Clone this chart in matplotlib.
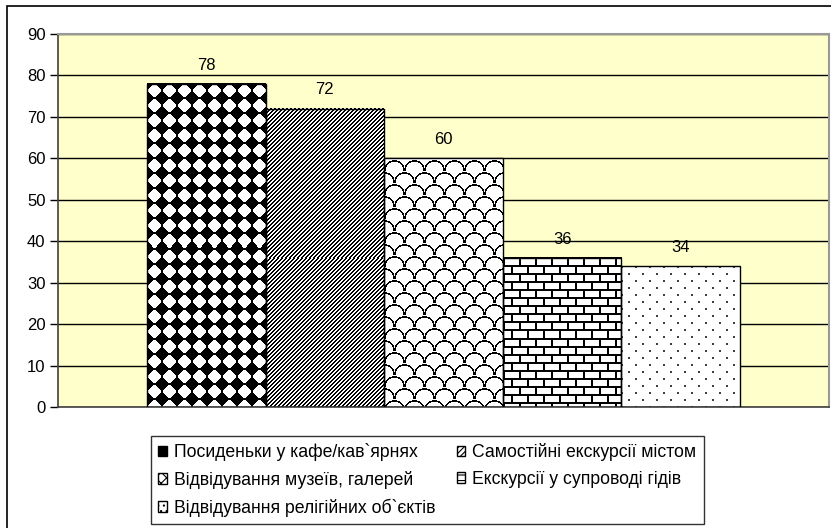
import numpy as np
import matplotlib
matplotlib.use('Agg')
import matplotlib.pyplot as plt
from matplotlib.patches import Patch, Rectangle

# data
categories = ['Посиденьки у кафе/кав`ярнях',
              'Самостійні екскурсії містом',
              'Відвідування музеїв, галерей',
              'Екскурсії у супроводі гідів',
              'Відвідування релігійних об`єктів']
values = [78, 72, 60, 36, 34]
y_ticks = list(range(0, 91, 10))

plt.rcParams['font.family'] = ['Liberation Sans', 'DejaVu Sans']
plt.rcParams['font.size'] = 12
plt.rcParams['hatch.linewidth'] = 0.8

W, H = 831, 528


# pixel patterns for the bars (1 = white, 0 = black)
def diamonds():
    yy, xx = np.mgrid[0:15, 0:15] - 7
    white = (np.abs(xx) + np.abs(yy) <= 7) & (np.maximum(np.abs(xx), np.abs(yy)) <= 6)
    return white.astype(float)


def stripes():
    yy, xx = np.mgrid[0:8, 0:8]
    return ((xx + yy) % 4 >= 2).astype(float)


def scales():
    h, w, r = 24, 20, 9.5
    yy, xx = np.mgrid[0:h, 0:w]
    img = np.ones((h, w))
    for m in range(-1, 4):
        cy = 12 * m
        for k in range(-1, 3):
            cx = 20 * k + 10 * (m % 2)
            d = np.hypot(xx - cx, yy - cy)
            img[(np.abs(d - r) < 0.8) & (yy <= cy)] = 0
    return img


def bricks():
    yy, xx = np.mgrid[0:16, 0:16]
    img = np.ones((16, 16))
    img[yy % 8 < 2] = 0
    img[(yy < 8) & (xx % 16 < 2)] = 0
    img[(yy >= 8) & ((xx + 8) % 16 < 2)] = 0
    return img


def dots():
    img = np.ones((14, 14))
    img[0:2, 0:2] = 0.25
    img[7:9, 7:9] = 0.25
    return img


patterns = [diamonds(), stripes(), scales(), bricks(), dots()]

fig = plt.figure(figsize=(W / 100, H / 100), dpi=100)
ax = fig.add_axes([58 / W, 1 - 407 / H, (829 - 58) / W, (407 - 34) / H])
ax.set_facecolor('#FFFFCC')

x = np.arange(len(values))
ax.set_xlim(-1.25, len(values) + 0.25)
ax.set_ylim(0, 90)

bars = ax.bar(x, values, width=1.0, facecolor='none', edgecolor='black',
              linewidth=1.0, zorder=3)

for bar, pat in zip(bars, patterns):
    bb = bar.get_window_extent()
    w = int(round(bb.width))
    h = int(round(bb.height))
    reps = (h // pat.shape[0] + 1, w // pat.shape[1] + 1)
    img = np.tile(pat, reps)[:h, :w]
    x0 = bar.get_x()
    ax.imshow(img, extent=(x0, x0 + bar.get_width(), 0, bar.get_height()),
              cmap='gray', vmin=0, vmax=1, interpolation='nearest',
              aspect='auto', zorder=2, clip_path=bar)

ax.set_xlim(-1.25, len(values) + 0.25)
ax.set_ylim(0, 90)

ax.bar_label(bars, labels=[str(v) for v in values], padding=8, fontsize=12)

ax.set_yticks(y_ticks)
ax.set_xticks([])
ax.tick_params(axis='y', length=6, pad=3, width=1, labelsize=12)
ax.grid(axis='y', color='black', linewidth=1)
ax.set_axisbelow(True)

for side in ['left', 'bottom']:
    ax.spines[side].set_color('#404040')
    ax.spines[side].set_linewidth(1.2)
for side in ['top', 'right']:
    ax.spines[side].set_color('#999999')
    ax.spines[side].set_linewidth(1.5)

# outer chart border (cut off on the right and bottom like the reference)
fig.patches.append(Rectangle((6.5 / W, -0.05), 1.1, 1.05 - 5.5 / H,
                             transform=fig.transFigure, fill=False,
                             edgecolor='black', linewidth=1.2))

handles = [Patch(facecolor='black', edgecolor='black'),
           Patch(facecolor='white', edgecolor='black', hatch='//////'),
           Patch(facecolor='white', edgecolor='black', hatch='xxx'),
           Patch(facecolor='white', edgecolor='black', hatch='---'),
           Patch(facecolor='white', edgecolor='black', hatch='...')]
order = [0, 2, 4, 1, 3]
leg = fig.legend([handles[i] for i in order], [categories[i] for i in order],
                 loc='upper left', bbox_to_anchor=(151 / W, 1 - 436 / H),
                 borderaxespad=0, ncol=2, frameon=True, fancybox=False,
                 edgecolor='black', handlelength=0.5, handleheight=0.5,
                 handletextpad=0.4, columnspacing=1.2, labelspacing=0.55,
                 borderpad=0.4, fontsize=12.7)
leg.get_frame().set_linewidth(1.0)

fig.savefig('out.png', dpi=100)
